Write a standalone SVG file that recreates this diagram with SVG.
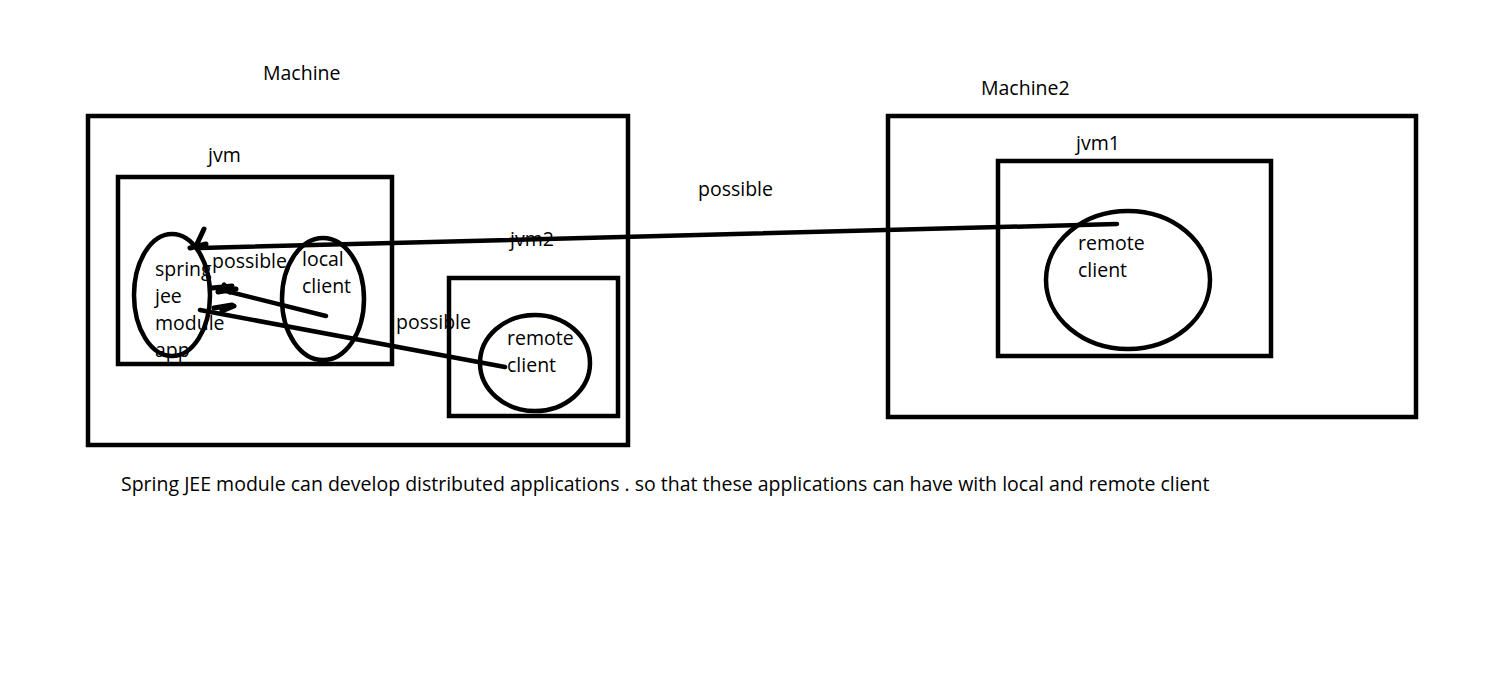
<svg xmlns="http://www.w3.org/2000/svg" width="1486" height="690" viewBox="0 0 1486 690">
<style>
.b{fill:none;stroke:#000;stroke-width:4.5}
.l{fill:none;stroke:#000;stroke-width:4.5;stroke-linecap:round}
.m{fill:none;stroke:#000;stroke-width:5;stroke-linecap:round}
text{font-family:"Open Sans","Noto Sans",sans-serif;font-size:19.5px;fill:#000}
</style>
<rect width="1486" height="690" fill="#fff"/>
<g id="machine"><rect class="b" x="88" y="116" width="540" height="329"/><text x="263" y="80">Machine</text></g>
<g id="jvm"><rect class="b" x="118" y="177" width="274" height="187"/><text x="208" y="162">jvm</text></g>
<g id="jvm2"><rect class="b" x="449" y="278" width="169" height="138"/></g>
<g id="machine2"><rect class="b" x="888" y="116" width="528" height="301"/><text x="981" y="95">Machine2</text></g>
<g id="jvm1"><rect class="b" x="998" y="161" width="273" height="195"/><text x="1076" y="150">jvm1</text></g>
<g id="connectors">
<path class="l" d="M200,248 L1117,224"/>
<path class="l" d="M326,316 L222,290"/>
<path class="l" d="M505,367 L200,310"/>
<path class="m" d="M204,229 L196,246 M190,248 L206,244"/>
<path class="m" d="M212,288 L232,286 M218,292 L236,289 M224,285 L230,292"/>
<path class="m" d="M214,308 L232,305 M222,311 L234,306"/>
</g>
<g id="spring-app"><ellipse class="b" cx="172" cy="295" rx="38" ry="61"/>
<text x="155" y="276">spring</text><text x="155" y="303">jee</text><text x="155" y="330">module</text><text x="155" y="357">app</text></g>
<g id="local-client"><ellipse class="b" cx="323" cy="299" rx="41" ry="61"/><text x="302" y="266">local</text><text x="302" y="293">client</text></g>
<g id="remote-client-jvm2"><ellipse class="b" cx="535" cy="363" rx="55" ry="48"/><text x="507" y="345">remote</text><text x="507" y="372">client</text></g>
<g id="remote-client-jvm1"><ellipse class="b" cx="1128" cy="280" rx="82" ry="69"/><text x="1078" y="250">remote</text><text x="1078" y="277">client</text></g>
<g id="labels">
<text x="212" y="268">possible</text>
<text x="396" y="329">possible</text>
<text x="698" y="196">possible</text>
<text x="510" y="246">jvm2</text>
<text x="121" y="491">Spring JEE module can develop distributed applications . so that these applications can have with local and remote client</text>
</g>
</svg>
